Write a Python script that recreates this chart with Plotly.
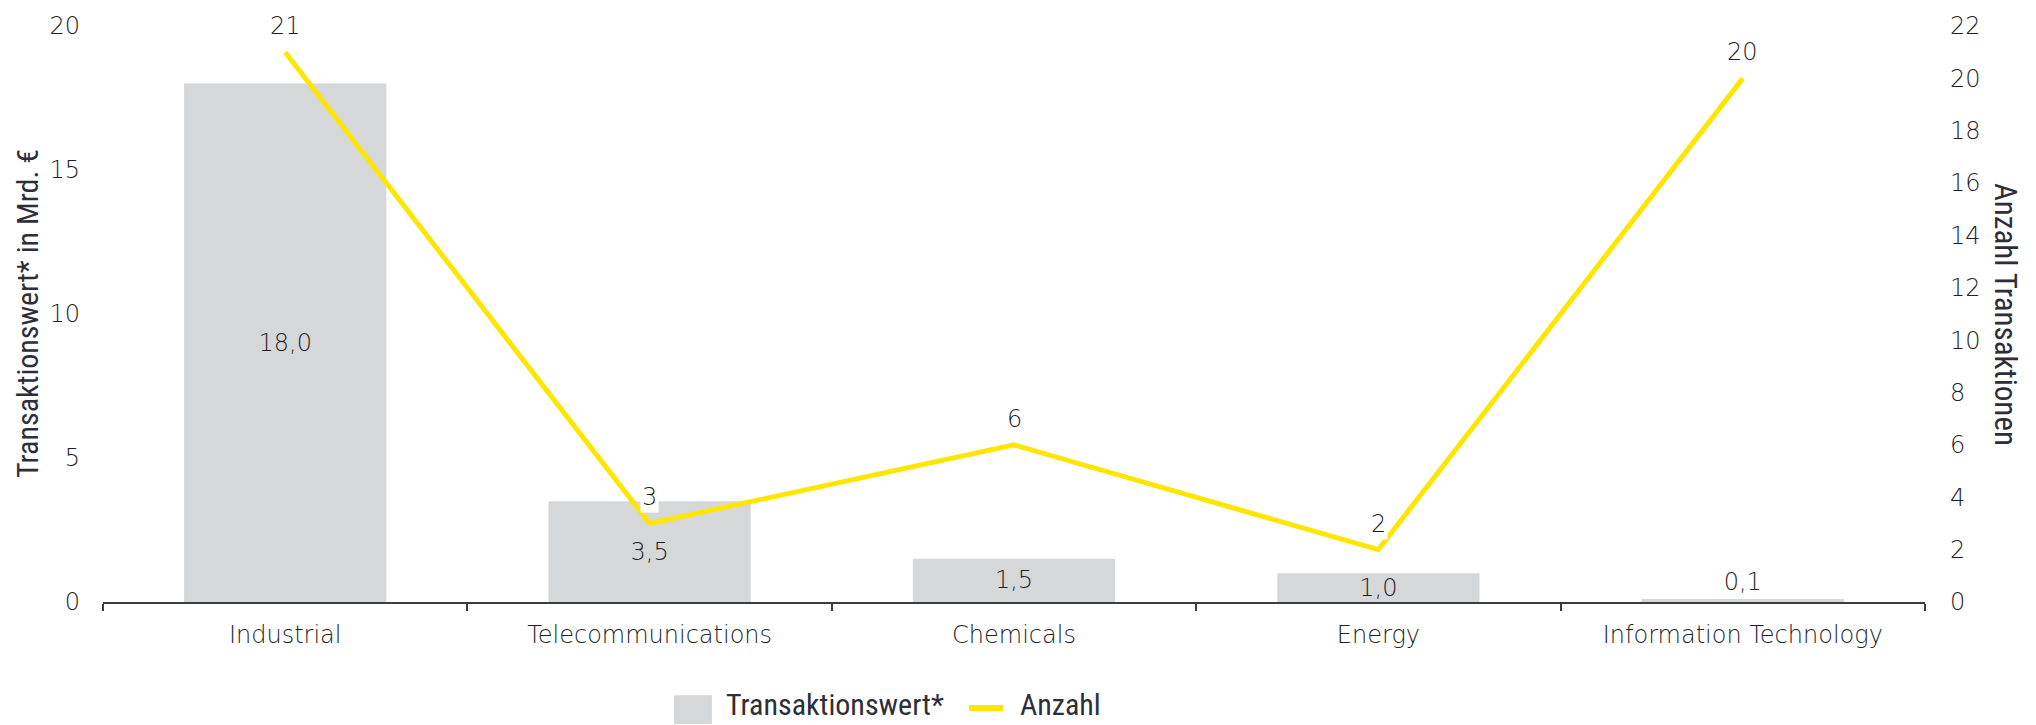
import plotly.graph_objects as go

categories = ["Industrial", "Telecommunications", "Chemicals", "Energy", "Information Technology"]
transaktionswert = [18.0, 3.5, 1.5, 1.0, 0.1]
anzahl = [21, 3, 6, 2, 20]
left_ticks = [0, 5, 10, 15, 20]
right_ticks = list(range(0, 23, 2))

TXT = "#1f1f28"
WIDE = "DejaVu Sans"
NARROW = "Liberation Sans Narrow, Arial Narrow, Roboto Condensed, Liberation Sans, sans-serif"
YELLOW = "#FFE600"
GREY = "#d6d7d9"
WFONT = dict(family=WIDE, size=24, color=TXT, weight=300)

bar_text = [f"{v:.1f}".replace(".", ",") for v in transaktionswert]
bar_pos = ["inside" if v >= 1 else "outside" for v in transaktionswert]

fig = go.Figure()
fig.add_trace(go.Bar(
    x=categories, y=transaktionswert, name="Transaktionswert*",
    marker=dict(color=GREY, line=dict(width=0)),
    text=bar_text, textposition=bar_pos, insidetextanchor="middle",
    textfont=WFONT,
    cliponaxis=False, width=0.555, yaxis="y",
))
fig.add_trace(go.Scatter(
    x=categories, y=anzahl, name="Anzahl", mode="lines",
    line=dict(color=YELLOW, width=5), yaxis="y2",
))

for c, v in zip(categories, anzahl):
    fig.add_annotation(x=c, y=v, xref="x", yref="y2", text=str(v), showarrow=False,
                       yshift=26, bgcolor="white", font=WFONT)

# axis titles
fig.add_annotation(x=-0.0417, y=0.5, xref="paper", yref="paper", xanchor="center", yanchor="middle",
                   text="Transaktionswert* in Mrd. €", textangle=-90, showarrow=False,
                   font=dict(family=NARROW, size=30, color="#2e2e38"))
fig.add_annotation(x=1.0445, y=0.5, xref="paper", yref="paper", xanchor="center", yanchor="middle",
                   text="Anzahl Transaktionen", textangle=90, showarrow=False,
                   font=dict(family=NARROW, size=31, color="#2e2e38"))

# custom legend
fig.add_shape(type="rect", xref="paper", yref="paper", x0=0.3134, x1=0.3342, y0=-0.1618, y1=-0.2117,
              fillcolor=GREY, line=dict(width=0), layer="above")
fig.add_annotation(x=0.3408, y=-0.2117, xref="paper", yref="paper", xanchor="left", yanchor="bottom",
                   text="Transaktionswert*", showarrow=False,
                   font=dict(family=NARROW, size=30, color="#2e2e38"))
fig.add_shape(type="line", xref="paper", yref="paper", x0=0.4753, x1=0.4940, y0=-0.1842, y1=-0.1842,
              line=dict(color=YELLOW, width=6), layer="above")
fig.add_annotation(x=0.5022, y=-0.2117, xref="paper", yref="paper", xanchor="left", yanchor="bottom",
                   text="Anzahl", showarrow=False,
                   font=dict(family=NARROW, size=30, color="#2e2e38"))

fig.update_layout(
    width=2036, height=725,
    margin=dict(l=103, r=111, t=21, b=123),
    plot_bgcolor="white", paper_bgcolor="white",
    showlegend=False,
    uniformtext=dict(mode="show", minsize=24),
    xaxis=dict(
        type="category", range=[-0.5, 4.5],
        showline=True, linecolor="#3c3c46", linewidth=2,
        ticks="outside", tickson="boundaries", ticklen=7, tickcolor="#3c3c46", tickwidth=2,
        tickfont=WFONT, ticklabelstandoff=10,
        showgrid=False, zeroline=False,
    ),
    yaxis=dict(
        range=[0, 20], tickvals=left_ticks, showgrid=False, zeroline=False, showline=False,
        tickfont=WFONT, ticklabelstandoff=22,
    ),
    yaxis2=dict(
        range=[0, 22], tickvals=right_ticks, overlaying="y", side="right",
        showgrid=False, zeroline=False, showline=False,
        tickfont=WFONT, ticklabelstandoff=24,
    ),
)

fig.write_html("out.html")
